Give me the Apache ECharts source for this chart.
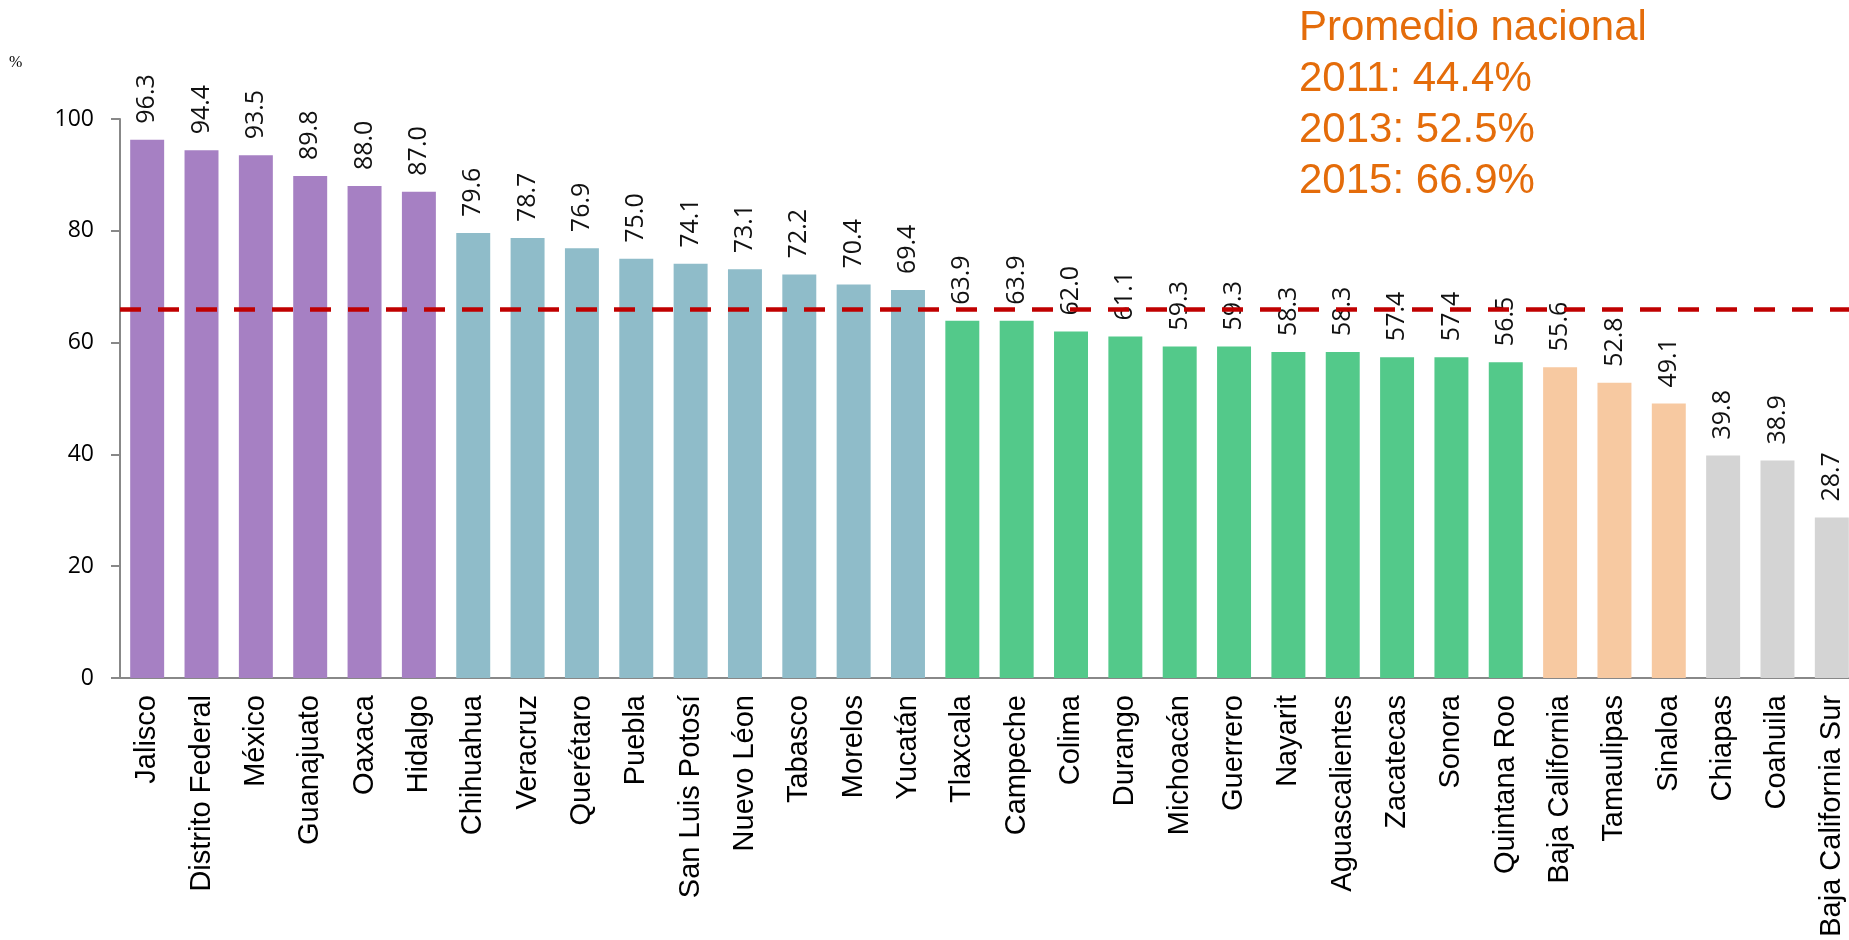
<!DOCTYPE html>
<html>
<head>
<meta charset="utf-8">
<script src="https://cdn.jsdelivr.net/npm/echarts@6/dist/echarts.min.js"></script>
<style>
html, body { margin: 0; padding: 0; background: #fff; }
#chart { width: 1849px; height: 940px; }
</style>
</head>
<body>
<div id="chart"></div>
<script>
// estados ordenados de mayor a menor
var estados = ['Jalisco', 'Distrito Federal', 'México', 'Guanajuato', 'Oaxaca', 'Hidalgo',
    'Chihuahua', 'Veracruz', 'Querétaro', 'Puebla', 'San Luis Potosí', 'Nuevo Léon', 'Tabasco', 'Morelos', 'Yucatán',
    'Tlaxcala', 'Campeche', 'Colima', 'Durango', 'Michoacán', 'Guerrero', 'Nayarit', 'Aguascalientes', 'Zacatecas', 'Sonora', 'Quintana Roo',
    'Baja California', 'Tamaulipas', 'Sinaloa',
    'Chiapas', 'Coahuila', 'Baja California Sur'];
var valores = [96.3, 94.4, 93.5, 89.8, 88.0, 87.0,
    79.6, 78.7, 76.9, 75.0, 74.1, 73.1, 72.2, 70.4, 69.4,
    63.9, 63.9, 62.0, 61.1, 59.3, 59.3, 58.3, 58.3, 57.4, 57.4, 56.5,
    55.6, 52.8, 49.1,
    39.8, 38.9, 28.7];
// grupo de color de cada estado
var grupo = [0, 0, 0, 0, 0, 0,
    1, 1, 1, 1, 1, 1, 1, 1, 1,
    2, 2, 2, 2, 2, 2, 2, 2, 2, 2, 2,
    3, 3, 3,
    4, 4, 4];
var colores = ['#a680c3', '#8fbcc9', '#53c98a', '#f7c9a1', '#d4d4d4'];
var promedio = 66.0;
var yTicks = [0, 20, 40, 60, 80, 100];
var textoPromedio = 'Promedio nacional\n2011: 44.4%\n2013: 52.5%\n2015: 66.9%';

var myChart = echarts.init(document.getElementById('chart'));

var option = {
    animation: false,
    title: [
        {
            text: '%',
            left: 9, top: 55, padding: 0,
            textStyle: { fontFamily: 'Liberation Serif', fontSize: 16, fontWeight: 'normal', color: '#000' }
        },
        {
            text: textoPromedio,
            left: 1299, top: 3, padding: 0,
            textStyle: { fontFamily: 'Liberation Sans', fontSize: 42, fontWeight: 'normal', color: '#e46c0a', lineHeight: 51 }
        }
    ],
    grid: {
        left: 120,
        top: 119,
        bottom: 262,
        width: 1739,
        containLabel: false,
        outerBoundsMode: 'none'
    },
    xAxis: {
        type: 'category',
        data: estados,
        axisTick: { show: false },
        axisLine: { lineStyle: { color: '#888', width: 2 } },
        axisLabel: {
            interval: 0,
            rotate: 90,
            margin: 17,
            fontFamily: 'Liberation Sans',
            fontSize: 29,
            color: '#000'
        }
    },
    yAxis: {
        type: 'value',
        min: yTicks[0],
        max: yTicks[yTicks.length - 1],
        interval: 20,
        splitLine: { show: false },
        axisLine: { show: true, lineStyle: { color: '#888', width: 2 } },
        axisTick: { show: true, length: 9, lineStyle: { color: '#888', width: 2 } },
        axisLabel: {
            margin: 26,
            fontFamily: 'Open Sans',
            fontSize: 23,
            color: '#000'
        }
    },
    series: [{
        type: 'bar',
        data: valores,
        barCategoryGap: '37.5%',
        itemStyle: {
            color: function (p) { return colores[grupo[p.dataIndex]]; }
        },
        label: {
            show: true,
            position: 'top',
            rotate: 90,
            align: 'left',
            verticalAlign: 'middle',
            distance: 16,
            fontFamily: 'Open Sans',
            fontSize: 25,
            color: '#111',
            formatter: function (p) { return p.value.toFixed(1); }
        },
        markLine: {
            symbol: 'none',
            silent: true,
            z: 10,
            label: { show: false },
            lineStyle: { color: '#c00000', width: 4.5, type: [21, 17] },
            data: [{ yAxis: promedio }]
        }
    }]
};

myChart.setOption(option);
</script>
</body>
</html>
